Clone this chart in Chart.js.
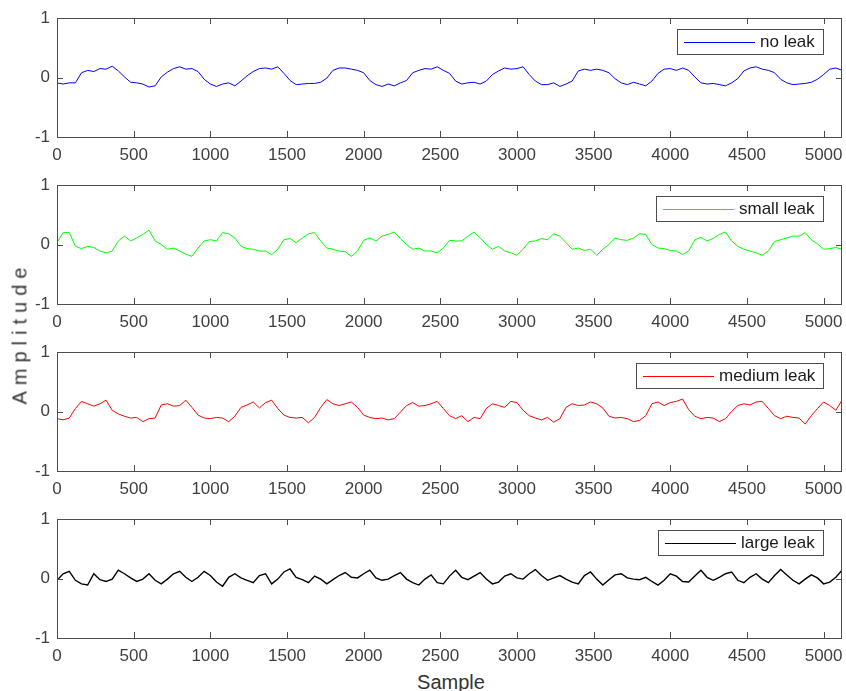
<!DOCTYPE html>
<html>
<head>
<meta charset="utf-8">
<script src="https://cdn.jsdelivr.net/npm/chart.js@4/dist/chart.umd.min.js"></script>
<style>
  body { margin: 0; background: #fff; width: 846px; height: 691px; position: relative; overflow: hidden;
         font-family: "Liberation Sans", Arial, sans-serif; }
  .panel { position: absolute; left: 0; width: 846px; height: 167px; }
  #ylab { position: absolute; left: 20px; top: 333px; transform: translate(-50%, -50%) rotate(-90deg);
          font-size: 20px; letter-spacing: 6px; color: #333; white-space: nowrap; }
  #xlab { position: absolute; left: 451px; top: 682px; transform: translate(-50%, -50%);
          font-size: 20px; color: #333; }
</style>
</head>
<body>
<div class="panel" style="top:0px"><canvas id="c0" width="846" height="167"></canvas></div>
<div class="panel" style="top:167px"><canvas id="c1" width="846" height="167"></canvas></div>
<div class="panel" style="top:334px"><canvas id="c2" width="846" height="167"></canvas></div>
<div class="panel" style="top:501px"><canvas id="c3" width="846" height="167"></canvas></div>
<div id="ylab">Amplitude</div>
<div id="xlab">Sample</div>

<script>
// values every 40 samples (0 .. 5120)
const sampleStep = 40;

const noLeak = [
  -0.09,-0.11,-0.09,-0.09,0.08,0.12,0.1,0.15,0.14,0.19,0.11,0.01,-0.08,-0.09,-0.11,-0.16,
  -0.14,0.01,0.09,0.15,0.18,0.14,0.15,0.1,-0.03,-0.11,-0.15,-0.11,-0.09,-0.14,-0.06,0.03,
  0.1,0.15,0.16,0.14,0.18,0.07,-0.05,-0.12,-0.11,-0.1,-0.1,-0.08,-0.01,0.12,0.16,0.16,
  0.14,0.12,0.08,-0.05,-0.12,-0.15,-0.11,-0.14,-0.09,-0.05,0.08,0.12,0.15,0.14,0.18,0.12,
  0.07,-0.06,-0.11,-0.09,-0.08,-0.11,-0.06,0.05,0.11,0.16,0.14,0.15,0.18,0.05,-0.06,-0.12,
  -0.12,-0.09,-0.15,-0.11,-0.06,0.11,0.14,0.12,0.14,0.12,0.08,-0.02,-0.09,-0.12,-0.08,-0.11,
  -0.14,-0.06,0.07,0.14,0.15,0.12,0.16,0.12,0.01,-0.09,-0.11,-0.1,-0.12,-0.14,-0.09,-0.02,
  0.11,0.16,0.18,0.14,0.12,0.08,-0.03,-0.09,-0.12,-0.11,-0.1,-0.08,-0.03,0.05,0.14,0.16,
  0.12
];

const smallLeak = [
  0.03,0.2,0.2,-0.03,-0.07,-0.03,-0.05,-0.11,-0.14,-0.11,0.06,0.14,0.06,0.11,0.17,0.24,
  0.06,0,-0.08,-0.06,-0.11,-0.16,-0.2,-0.06,0.06,0.08,0.06,0.2,0.18,0.11,-0.03,-0.07,
  -0.08,-0.11,-0.11,-0.17,-0.08,0.08,0.1,0.03,0.11,0.18,0.2,0.06,-0.06,-0.08,-0.11,-0.12,
  -0.2,-0.11,0.07,0.11,0.06,0.14,0.17,0.21,0.1,0,-0.08,-0.06,-0.11,-0.11,-0.14,-0.06,
  0.07,0.06,0.06,0.14,0.21,0.11,0,-0.08,-0.03,-0.11,-0.14,-0.18,-0.08,0.05,0.06,0.1,
  0.08,0.18,0.14,0.03,-0.08,-0.06,-0.1,-0.08,-0.18,-0.08,0,0.11,0.08,0.07,0.11,0.18,
  0.17,0,-0.06,-0.07,-0.1,-0.11,-0.17,-0.11,0.08,0.12,0.06,0.1,0.17,0.21,0.06,-0.03,
  -0.08,-0.11,-0.14,-0.18,-0.11,0.05,0.08,0.11,0.14,0.14,0.2,0.08,0.01,-0.08,-0.07,-0.05,
  -0.08
];

const mediumLeak = [
  -0.12,-0.14,-0.11,0.05,0.17,0.13,0.09,0.13,0.19,0.02,-0.04,-0.08,-0.11,-0.1,-0.17,-0.12,
  -0.11,0.11,0.13,0.09,0.1,0.19,0.07,-0.06,-0.11,-0.12,-0.1,-0.11,-0.17,-0.08,0.07,0.11,
  0.16,0.06,0.15,0.19,0.05,-0.06,-0.1,-0.11,-0.1,-0.19,-0.1,0.07,0.2,0.13,0.1,0.13,
  0.16,0.07,-0.06,-0.1,-0.12,-0.11,-0.14,-0.12,-0.01,0.1,0.15,0.09,0.1,0.13,0.17,0.05,
  -0.07,-0.12,-0.07,-0.17,-0.1,-0.12,0.05,0.13,0.1,0.07,0.17,0.15,0.02,-0.07,-0.11,-0.14,
  -0.1,-0.18,-0.12,0.07,0.13,0.1,0.11,0.16,0.13,0.06,-0.08,-0.11,-0.1,-0.12,-0.17,-0.15,
  -0.07,0.13,0.16,0.1,0.15,0.17,0.21,0.03,-0.08,-0.12,-0.1,-0.11,-0.17,-0.12,0,0.1,
  0.13,0.11,0.16,0.17,0.05,-0.07,-0.12,-0.08,-0.1,-0.11,-0.21,-0.07,0.05,0.16,0.1,0.02,
  0.19
];

const largeLeak = [
  -0.03,0.08,0.12,-0.03,-0.09,-0.11,0.08,-0.02,-0.05,-0.01,0.14,0.08,0.01,-0.05,-0.01,0.08,
  -0.03,-0.09,-0.01,0.08,0.12,0.02,-0.05,0.02,0.12,0.05,-0.06,-0.13,0.02,0.08,0.01,-0.03,
  -0.07,0.05,0.08,-0.09,-0.01,0.11,0.16,0.02,-0.02,-0.07,0.04,-0.01,-0.09,-0.02,0.05,0.1,
  0.02,0.01,0.08,0.14,0.01,-0.03,-0.01,0.05,0.1,-0.01,-0.07,-0.11,-0.01,0.06,-0.07,-0.09,
  0.04,0.14,0.02,-0.02,0.04,0.1,-0.01,-0.09,-0.06,0.04,0.08,0.01,-0.01,0.08,0.15,0.05,
  -0.03,0.01,0.05,-0.01,-0.06,-0.09,0.05,0.11,-0.01,-0.11,-0.02,0.06,0.08,0.01,-0.01,-0.02,
  0.02,-0.05,-0.11,-0.03,0.08,0.04,-0.05,-0.06,0.04,0.14,0.02,-0.03,0.02,0.08,0.11,-0.03,
  -0.07,0.02,0.08,-0.01,-0.07,0.05,0.15,0.06,-0.03,-0.09,-0.01,0.06,0.01,-0.09,-0.06,0.02,
  0.14
];

const seriesLabels = ["no leak", "small leak", "medium leak", "large leak"];
const seriesColors = ["#0000ff", "#00ff00", "#ff0000", "#000000"];
const seriesValues = [noLeak, smallLeak, mediumLeak, largeLeak];
const xTicks = [0, 500, 1000, 1500, 2000, 2500, 3000, 3500, 4000, 4500, 5000];
const yTicks = [-1, 0, 1];
const xMax = 5120;

const axisColor = "#4d4d4d";
const textColor = "#404040";
const fontFamily = '"Liberation Sans", Arial, sans-serif';

// matlab style box with inward ticks on all four sides
const frame = {
  id: "frame",
  afterDatasetsDraw(chart) {
    const { ctx, chartArea: a, scales: { x, y } } = chart;
    const len = 6;
    ctx.save();
    ctx.strokeStyle = axisColor;
    ctx.lineWidth = 1;
    ctx.strokeRect(a.left + 0.5, a.top + 0.5, a.right - a.left - 1, a.bottom - a.top);
    ctx.beginPath();
    x.ticks.forEach(t => {
      const px = Math.round(x.getPixelForValue(t.value)) + 0.5;
      ctx.moveTo(px, a.bottom); ctx.lineTo(px, a.bottom - len);
      ctx.moveTo(px, a.top); ctx.lineTo(px, a.top + len);
    });
    y.ticks.forEach(t => {
      const py = Math.round(y.getPixelForValue(t.value)) + 0.5;
      ctx.moveTo(a.left, py); ctx.lineTo(a.left + len, py);
      ctx.moveTo(a.right, py); ctx.lineTo(a.right - len, py);
    });
    ctx.stroke();
    ctx.restore();
  }
};

// boxed legend in the top right corner
const legendBox = {
  id: "legendBox",
  afterDraw(chart) {
    const { ctx, chartArea: a } = chart;
    const ds = chart.data.datasets[0];
    ctx.save();
    ctx.font = "17px " + fontFamily;
    const tw = ctx.measureText(ds.label).width;
    const h = 25, lineLen = 71;
    const w = 7 + lineLen + 5 + tw + 8;
    const right = a.right - 19, top = a.top + 11;
    const left = Math.round(right - w);
    ctx.fillStyle = "#fff";
    ctx.fillRect(left, top, right - left, h);
    ctx.strokeStyle = axisColor;
    ctx.lineWidth = 1;
    ctx.strokeRect(left + 0.5, top + 0.5, Math.round(right - left), h);
    ctx.strokeStyle = ds.borderColor;
    ctx.beginPath();
    ctx.moveTo(left + 7, top + Math.round(h / 2) + 0.5);
    ctx.lineTo(left + 7 + lineLen, top + Math.round(h / 2) + 0.5);
    ctx.stroke();
    ctx.fillStyle = "#1a1a1a";
    ctx.textBaseline = "middle";
    ctx.fillText(ds.label, left + 7 + lineLen + 5, top + h / 2 + 1);
    ctx.restore();
  }
};

seriesValues.forEach((vals, i) => {
  const ctx = document.getElementById("c" + i).getContext("2d");
  new Chart(ctx, {
    type: "line",
    data: {
      datasets: [{
        label: seriesLabels[i],
        data: vals.map((v, k) => ({ x: k * sampleStep, y: v })),
        borderColor: seriesColors[i],
        borderWidth: i === 3 ? 1.4 : 1,
        pointRadius: 0,
        tension: 0,
        fill: false
      }]
    },
    options: {
      responsive: false,
      animation: false,
      events: [],
      layout: { padding: { top: 18, right: 4, left: 0, bottom: 0 } },
      plugins: { legend: { display: false }, tooltip: { enabled: false } },
      scales: {
        x: {
          type: "linear",
          min: 0,
          max: xMax,
          afterBuildTicks: s => { s.ticks = xTicks.map(v => ({ value: v })); },
          afterFit: s => { s.height = 30; s.paddingLeft = 0; s.paddingRight = 0; },
          grid: { display: false, drawTicks: false },
          border: { display: false },
          ticks: { padding: 8, color: textColor, maxRotation: 0, autoSkip: false,
                   callback: v => String(v),
                   font: { family: fontFamily, size: 17 } }
        },
        y: {
          min: -1,
          max: 1,
          afterBuildTicks: s => { s.ticks = yTicks.map(v => ({ value: v })); },
          afterFit: s => { s.width = 57; s.paddingTop = 0; s.paddingBottom = 0; },
          grid: { display: false, drawTicks: false },
          border: { display: false },
          ticks: { padding: 7, color: textColor, callback: v => String(v),
                   font: { family: fontFamily, size: 17 } }
        }
      }
    },
    plugins: [frame, legendBox]
  });
});
</script>
</body>
</html>
